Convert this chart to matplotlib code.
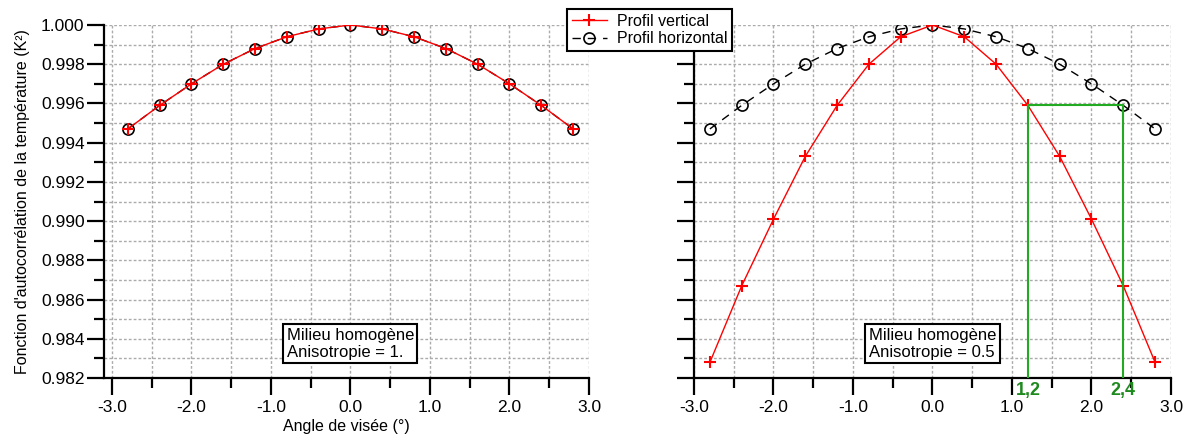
import matplotlib
matplotlib.use("Agg")
import matplotlib.pyplot as plt
from matplotlib.ticker import MultipleLocator, FormatStrFormatter

plt.rcParams['font.family'] = ['Liberation Sans', 'DejaVu Sans']

# data
angle = [-2.8, -2.4, -2.0, -1.6, -1.2, -0.8, -0.4, 0.0, 0.4, 0.8, 1.2, 1.6, 2.0, 2.4, 2.8]
iso_vert = [0.9947, 0.9959, 0.9970, 0.9980, 0.9988, 0.9994, 0.9998, 1.0000,
            0.9998, 0.9994, 0.9988, 0.9980, 0.9970, 0.9959, 0.9947]
iso_horiz = [0.9947, 0.9959, 0.9970, 0.9980, 0.9988, 0.9994, 0.9998, 1.0000,
             0.9998, 0.9994, 0.9988, 0.9980, 0.9970, 0.9959, 0.9947]
aniso_vert = [0.9828, 0.9867, 0.9901, 0.9933, 0.9959, 0.9980, 0.9994, 1.0000,
              0.9994, 0.9980, 0.9959, 0.9933, 0.9901, 0.9867, 0.9828]
aniso_horiz = iso_horiz
green_x = [1.2, 2.4]
green_y = 0.9959
green_labels = ['1,2', '2,4']
box_texts = ['Milieu homogène\nAnisotropie = 1.', 'Milieu homogène\nAnisotropie = 0.5']

W, H = 1186, 447
fig = plt.figure(figsize=(W / 100, H / 100), dpi=100)
ax1 = fig.add_axes([104 / W, 1 - 378 / H, (589 - 104) / W, 353 / H])
ax2 = fig.add_axes([694 / W, 1 - 378 / H, (1171 - 694) / W, 353 / H])

grid_col = '#ababab'


def style_axis(ax, xmin, labels=True):
    ax.set_xlim(xmin, 3.0)
    ax.set_ylim(0.982, 1.000)
    for s in ['top', 'right']:
        ax.spines[s].set_visible(False)
    for s in ['left', 'bottom']:
        ax.spines[s].set_linewidth(1.6)
    ax.xaxis.set_major_locator(MultipleLocator(1.0))
    ax.xaxis.set_minor_locator(MultipleLocator(0.5))
    ax.yaxis.set_major_locator(MultipleLocator(0.002))
    ax.yaxis.set_minor_locator(MultipleLocator(0.001))
    ax.xaxis.set_major_formatter(FormatStrFormatter('%.1f'))
    ax.yaxis.set_major_formatter(FormatStrFormatter('%.3f'))
    ax.tick_params(which='major', length=12, width=1.6, labelsize=12.5)
    ax.tick_params(which='minor', length=7, width=1.6)
    ax.tick_params(axis='x', which='major', pad=4)
    ax.tick_params(axis='y', which='major', pad=2, labelleft=labels)
    ax.grid(True, which='both', color=grid_col, linestyle=(0, (2, 1.5)), linewidth=1.0)
    ax.set_axisbelow(True)


style_axis(ax1, -3.1)
style_axis(ax2, -3.0, labels=False)

for ax, vert, horiz, txt in [(ax1, iso_vert, iso_horiz, box_texts[0]),
                             (ax2, aniso_vert, aniso_horiz, box_texts[1])]:
    ax.plot(angle, horiz, color='black', linestyle=(0, (6, 5)), linewidth=1.0,
            marker='o', markersize=8, markerfacecolor='none', markeredgecolor='black',
            markeredgewidth=1.2, label='Profil horizontal', zorder=3)
    ax.plot(angle, vert, color='red', linewidth=1.0, marker='+', markersize=9,
            markeredgewidth=1.5, label='Profil vertical', zorder=4)
    ax.text(0.0, 0.98375, txt, ha='center', va='center', multialignment='left',
            fontsize=12, linespacing=1.15,
            bbox=dict(boxstyle='square,pad=0.2', facecolor='white', edgecolor='black',
                      linewidth=1.5), zorder=5)

# green construction lines on the anisotropic panel
ax2.plot(green_x, [green_y, green_y], color='#22aa22', linewidth=1.5, zorder=5)
for gx, gl in zip(green_x, green_labels):
    ax2.plot([gx, gx], [0.982, green_y], color='#22aa22', linewidth=1.5, zorder=5)
    ax2.text(gx, -0.012, gl, transform=ax2.get_xaxis_transform(), ha='center', va='top',
             fontsize=13, fontweight='bold', color='#1e8a1e', clip_on=False)

ax1.set_ylabel("Fonction d'autocorrélation de la température (K²)", fontsize=11.5, labelpad=8)
ax1.set_xlabel('Angle de visée (°)', fontsize=11.5, labelpad=3)

handles, labels = ax2.get_legend_handles_labels()
leg = fig.legend(handles[::-1], labels[::-1], loc='upper left',
                 bbox_to_anchor=(567 / W, 1 - 9 / H), fontsize=11.5, fancybox=False,
                 framealpha=1, edgecolor='black', borderaxespad=0, handlelength=2.2,
                 handletextpad=0.6, borderpad=0.3, labelspacing=0.15)
leg.get_frame().set_linewidth(1.5)

fig.savefig('out.png', dpi=100)
